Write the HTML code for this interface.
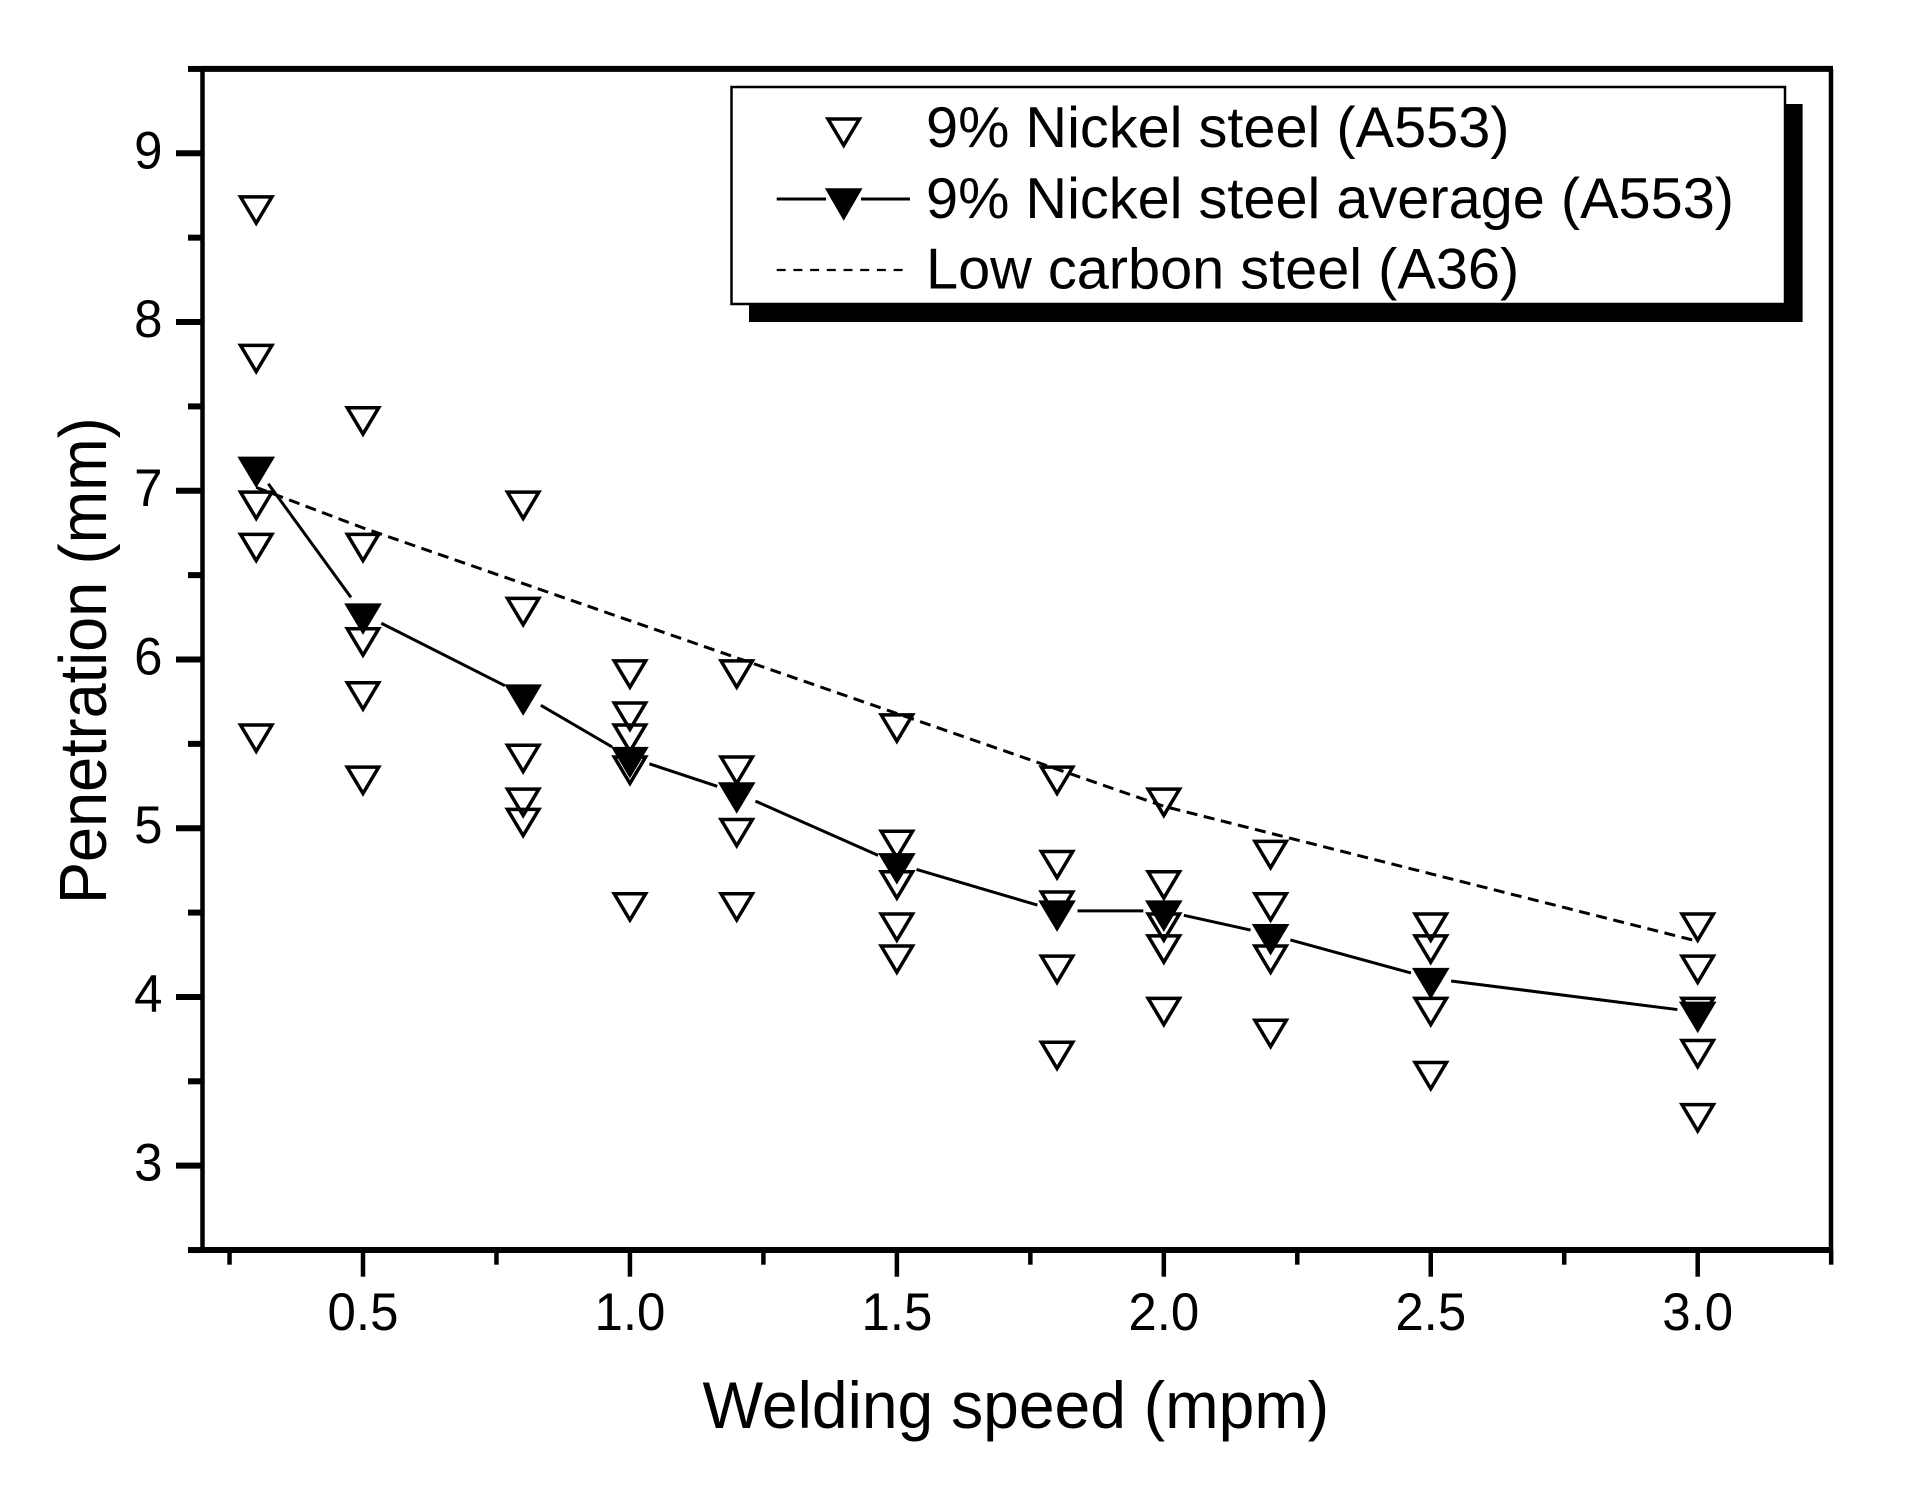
<!DOCTYPE html>
<html>
<head>
<meta charset="utf-8">
<title>Penetration vs welding speed</title>
<style>
html,body{margin:0;padding:0;background:#fff;}
svg{display:block;}
text{font-family:"Liberation Sans",Arial,sans-serif;fill:#000;}
</style>
</head>
<body>
<svg id="chart" xmlns="http://www.w3.org/2000/svg" width="1928" height="1498" viewBox="0 0 1928 1498">
  <rect x="0" y="0" width="1928" height="1498" fill="#fff"/>
  <g id="marks"></g>
  <g id="axes"></g>
  <text transform="translate(702.5,1428) scale(1,1.03)" font-size="64.2">Welding speed (mpm)</text>
  <text transform="translate(106,904) rotate(-90) scale(1,1.06)" font-size="63">Penetration (mm)</text>
  <g>
    <rect x="749" y="104" width="1053.6" height="218" fill="#000"/>
    <rect x="731.5" y="87" width="1053.5" height="217" fill="#fff" stroke="#000" stroke-width="2.5"/>
    <polygon points="828,119.05 859.4,119.05 843.7,145.35" fill="none" stroke="#000" stroke-width="3.5"/>
    <line x1="776.7" y1="199" x2="826" y2="199" stroke="#000" stroke-width="3"/>
    <line x1="861" y1="199" x2="910" y2="199" stroke="#000" stroke-width="3"/>
    <polygon points="824.9,188.3 862.5,188.3 843.7,220.8" fill="#000"/>
    <line x1="776.7" y1="270" x2="904" y2="270" stroke="#000" stroke-width="2.2" stroke-dasharray="9 7.7"/>
    <text x="926" y="147" font-size="57.7">9% Nickel steel (A553)</text>
    <text x="926" y="218" font-size="57.7">9% Nickel steel average (A553)</text>
    <text x="926" y="288.5" font-size="57.7">Low carbon steel (A36)</text>
  </g>
</svg>
<script>
const speeds = [0.3, 0.5, 0.8, 1.0, 1.2, 1.5, 1.8, 2.0, 2.2, 2.5, 3.0];
const nickelSamples = [
  [8.69, 7.81, 6.94, 6.69, 5.56],
  [7.44, 6.69, 6.13, 5.81, 5.31],
  [6.94, 6.31, 5.44, 5.18, 5.06],
  [5.94, 5.69, 5.56, 5.37, 4.56],
  [5.94, 5.37, 5.00, 4.56],
  [4.93, 4.69, 4.44, 4.25],
  [4.81, 4.57, 4.19, 3.68],
  [4.69, 4.44, 4.31, 3.94],
  [4.87, 4.56, 4.25, 3.81],
  [4.44, 4.31, 3.94, 3.56],
  [4.44, 4.19, 3.94, 3.69, 3.31]
];
const extraNickelSpeeds = [1.5, 1.8, 2.0];
const extraNickelValues = [5.62, 5.31, 5.18];
const nickelAverage = [7.14, 6.27, 5.79, 5.42, 5.21, 4.79, 4.51, 4.51, 4.37, 4.11, 3.91];
const lowCarbon = [7.02, 6.78, 6.45, 6.23, 6.01, 5.68, 5.35, 5.13, 4.97, 4.73, 4.33];
const xTickLabels = ["0.5", "1.0", "1.5", "2.0", "2.5", "3.0"];
const xMinorTicks = [0.25, 0.75, 1.25, 1.75, 2.25, 2.75, 3.25];
const yTickLabels = ["3", "4", "5", "6", "7", "8", "9"];
const yMinorTicks = [2.5, 3.5, 4.5, 5.5, 6.5, 7.5, 8.5, 9.5];

const NS = "http://www.w3.org/2000/svg";
const sx = v => 363 + (v - 0.5) * 533.88;
const sy = v => 153.3 + (9 - v) * 168.73;
const marks = document.getElementById("marks");
const axes = document.getElementById("axes");

function make(tag, parent, attrs) {
  const el = document.createElementNS(NS, tag);
  for (const k in attrs) el.setAttribute(k, attrs[k]);
  parent.appendChild(el);
  return el;
}

function openMarker(x, v) {
  const cx = sx(x), cy = sy(v);
  const el = make("polygon", marks, {
    points: (cx - 15.7) + "," + (cy - 8.75) + " " + (cx + 15.7) + "," + (cy - 8.75) + " " + cx + "," + (cy + 17.55),
    fill: "none", stroke: "#000", "stroke-width": 3.5
  });
  
  
}

speeds.forEach((s, i) => nickelSamples[i].forEach(v => openMarker(s, v)));
extraNickelSpeeds.forEach((s, i) => openMarker(s, extraNickelValues[i]));

const dashed = make("polyline", marks, {
  points: speeds.map((s, i) => sx(s) + "," + sy(lowCarbon[i])).join(" "),
  fill: "none", stroke: "#000", "stroke-width": 3, "stroke-dasharray": "11 6.6"
});



const GAP = 20.5;
for (let i = 0; i < speeds.length - 1; i++) {
  const x1 = sx(speeds[i]), y1 = sy(nickelAverage[i]);
  const x2 = sx(speeds[i + 1]), y2 = sy(nickelAverage[i + 1]);
  const d = Math.hypot(x2 - x1, y2 - y1);
  const ux = (x2 - x1) / d, uy = (y2 - y1) / d;
  const seg = make("line", marks, {
    x1: x1 + ux * GAP, y1: y1 + uy * GAP, x2: x2 - ux * GAP, y2: y2 - uy * GAP,
    stroke: "#000", "stroke-width": 3
  });
  
  
}

speeds.forEach((s, i) => {
  const cx = sx(s), cy = sy(nickelAverage[i]);
  const el = make("polygon", marks, {
    points: (cx - 18.8) + "," + (cy - 10.5) + " " + (cx + 18.8) + "," + (cy - 10.5) + " " + cx + "," + (cy + 21),
    fill: "#000"
  });
  
  
});

const leftX = 202.5, rightX = 1831, bottomY = sy(2.5), topY = sy(9.5);

const leftAxis = make("line", axes, { x1: leftX, y1: topY, x2: leftX, y2: bottomY, stroke: "#000", "stroke-width": 4.5 });



const rightAxis = make("line", axes, { x1: rightX, y1: topY, x2: rightX, y2: bottomY, stroke: "#000", "stroke-width": 4.5 });



const topAxis = make("line", axes, { x1: leftX, y1: topY, x2: rightX + 2, y2: topY, stroke: "#000", "stroke-width": 6 });



const bottomAxis = make("line", axes, { x1: leftX, y1: bottomY, x2: rightX + 2, y2: bottomY, stroke: "#000", "stroke-width": 6 });



yMinorTicks.forEach(v => {
  const t = make("line", axes, { x1: 188, y1: sy(v), x2: leftX, y2: sy(v), stroke: "#000", "stroke-width": 6 });
  
  
});

yTickLabels.forEach(lab => {
  const v = parseFloat(lab);
  const t = make("line", axes, { x1: 176, y1: sy(v), x2: leftX, y2: sy(v), stroke: "#000", "stroke-width": 6 });
  
  
  const txt = make("text", axes, { transform: "translate(162.5," + (sy(v) + 15) + ") scale(1,1.04)", "text-anchor": "end", "font-size": 51 });
  txt.textContent = lab;
  
  
});

xMinorTicks.forEach(v => {
  const t = make("line", axes, { x1: sx(v), y1: bottomY, x2: sx(v), y2: 1264.7, stroke: "#000", "stroke-width": 4.5 });
  
  
});

xTickLabels.forEach(lab => {
  const v = parseFloat(lab);
  const t = make("line", axes, { x1: sx(v), y1: bottomY, x2: sx(v), y2: 1276.7, stroke: "#000", "stroke-width": 4.5 });
  
  
  const txt = make("text", axes, { transform: "translate(" + sx(v) + ",1330) scale(1,1.04)", "text-anchor": "middle", "font-size": 51 });
  txt.textContent = lab;
  
  
});
</script>
</body>
</html>
